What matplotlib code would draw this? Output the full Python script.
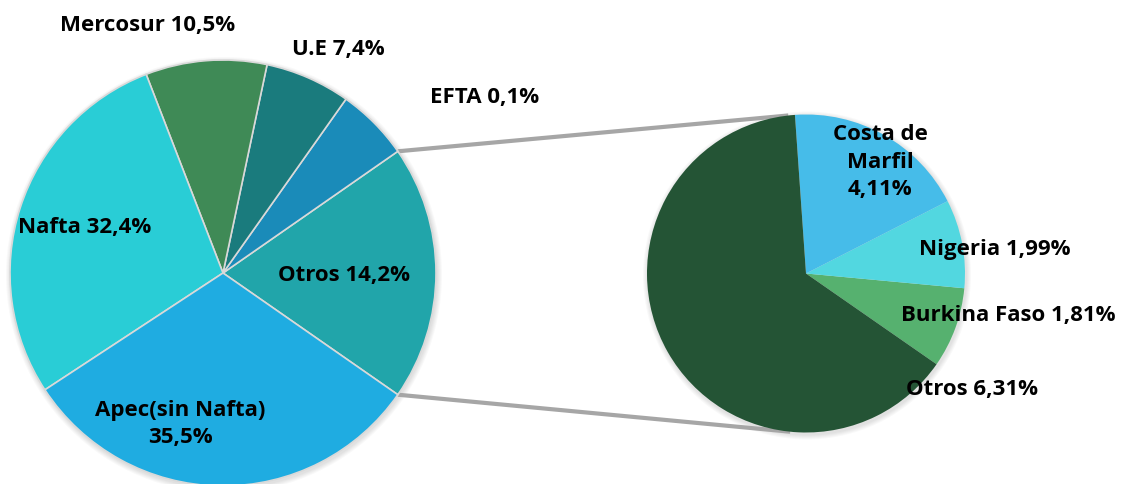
import numpy as np
import matplotlib.pyplot as plt
from matplotlib.patches import Circle

# données - graphique principal (ordre anti-horaire depuis "Otros")
main_vals = [22.11, 6.31, 7.4, 10.5, 32.4, 35.5]
main_labels = ["Otros 14,2%", "EFTA 0,1%", "U.E 7,4%", "Mercosur 10,5%",
               "Nafta 32,4%", "Apec(sin Nafta)\n35,5%"]
main_colors = ["#21A5AA", "#1A8BB9", "#1A7B7D", "#3F8A56", "#29CDD6", "#1FACE1"]

# données - graphique secondaire (détail de "Otros")
sub_vals = [1.81, 1.99, 4.11, 14.2]
sub_labels = ["Burkina Faso 1,81%", "Nigeria 1,99%", "Costa de\nMarfil\n4,11%", "Otros 6,31%"]
sub_colors = ["#56B16F", "#52D7E0", "#46BCE9", "#245435"]

W, H = 1125, 484
fig = plt.figure(figsize=(W / 100, H / 100), dpi=100)
ax = fig.add_axes([0, 0, 1, 1])

c1, r1 = (223, H - 273), 213
c2, r2 = (806, H - 273.5), 159
start1 = -180 * main_vals[0] / sum(main_vals)  # "Otros" centré sur 0°
start2 = -34.8

# ombre légère autour des camemberts
for c, r in [(c1, r1), (c2, r2)]:
    for k in range(1, 6):
        ax.add_patch(Circle((c[0] + 1, c[1] - 2), r + k, color="#000000", alpha=0.025, lw=0, zorder=0))

ax.pie(main_vals, colors=main_colors, center=c1, radius=r1, startangle=start1,
       wedgeprops=dict(edgecolor="#D9D9D9", linewidth=1.2, zorder=1))
ax.pie(sub_vals, colors=sub_colors, center=c2, radius=r2, startangle=start2,
       wedgeprops=dict(edgecolor="#D9D9D9", linewidth=0, zorder=1))

# lignes de liaison
a_top, a_bot = np.radians(-start1), np.radians(start1)
p1 = (c1[0] + r1 * np.cos(a_top), c1[1] + r1 * np.sin(a_top))
p2 = (c1[0] + r1 * np.cos(a_bot), c1[1] + r1 * np.sin(a_bot))
q1 = (c2[0] + r2 * np.cos(np.radians(96.4)), c2[1] + r2 * np.sin(np.radians(96.4)))
q2 = (c2[0] + r2 * np.cos(np.radians(264.3)), c2[1] + r2 * np.sin(np.radians(264.3)))
ax.plot([p1[0], q1[0]], [p1[1], q1[1]], color="#A6A6A6", lw=3.0, solid_capstyle="butt", zorder=0.5)
ax.plot([p2[0], q2[0]], [p2[1], q2[1]], color="#A6A6A6", lw=3.0, solid_capstyle="butt", zorder=0.5)

# étiquettes
main_pos = [(344, 275), (485, 98), (338, 50), (148, 26), (85, 228), (180, 424)]
sub_pos = [(1008, 316), (995, 250), (880, 162), (972, 390)]
font = dict(fontsize=16, fontweight="bold", family=["Open Sans", "DejaVu Sans"],
            ha="center", va="center", color="black", linespacing=1.4, zorder=5)
for lab, (x, y) in zip(main_labels, main_pos):
    ax.text(x, H - y, lab, **font)
for lab, (x, y) in zip(sub_labels, sub_pos):
    ax.text(x, H - y, lab, **font)

ax.set_xlim(0, W)
ax.set_ylim(0, H)
ax.set_aspect("equal")
ax.axis("off")
fig.savefig("out.png", dpi=100)
